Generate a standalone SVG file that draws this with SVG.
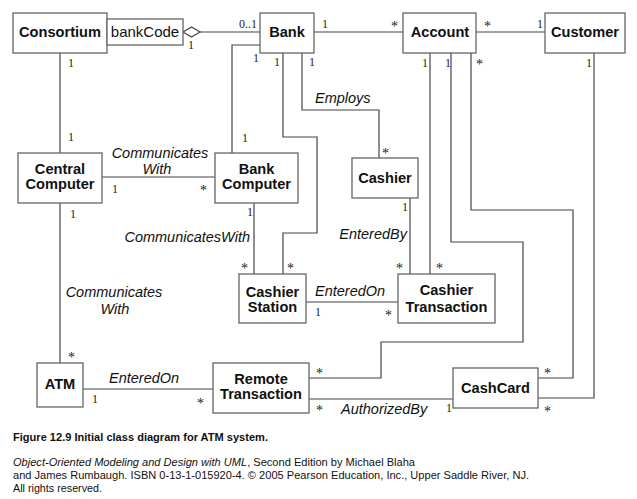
<svg xmlns="http://www.w3.org/2000/svg" width="637" height="499" viewBox="0 0 637 499">
<style>
.box{fill:#fff;stroke:#666;stroke-width:1.3}
.ln{fill:none;stroke:#444;stroke-width:1.2}
.cls{font-family:"Liberation Sans",Arial,sans-serif;font-weight:bold;font-size:14.6px;text-anchor:middle;fill:#111}
.attr{font-family:"Liberation Sans",Arial,sans-serif;font-size:15px;text-anchor:middle;fill:#111}
.lbl{font-family:"Liberation Sans",Arial,sans-serif;font-style:italic;font-size:14.5px;fill:#111}
.m{font-family:"Liberation Serif","Times New Roman",serif;font-size:12px;fill:#222}
.s{font-family:"Liberation Serif","Times New Roman",serif;font-size:14px;fill:#222}
.cap{font-family:"Liberation Sans",Arial,sans-serif;font-size:11px;fill:#111}
</style>
<rect width="637" height="499" fill="#fff"/>
<g id="connectors">
<polygon points="183,32 191.5,27 200,32 191.5,37" fill="#fff" stroke="#444" stroke-width="1.2"/>
<line class="ln" x1="200" y1="32" x2="260" y2="32"/>
<line class="ln" x1="60" y1="53" x2="60" y2="153"/>
<polyline class="ln" points="260,45 232,45 232,153"/>
<polyline class="ln" points="283,53 283,137 317,137 317,233 283,233 283,274"/>
<polyline class="ln" points="302,53 302,110 379,110 379,158"/>
<line class="ln" x1="314" y1="32" x2="403" y2="32"/>
<line class="ln" x1="476" y1="32" x2="545" y2="32"/>
<line class="ln" x1="102" y1="177" x2="215" y2="177"/>
<line class="ln" x1="60" y1="203" x2="60" y2="363"/>
<line class="ln" x1="254" y1="203" x2="254" y2="274"/>
<line class="ln" x1="410" y1="198" x2="410" y2="274"/>
<line class="ln" x1="306" y1="302" x2="398" y2="302"/>
<line class="ln" x1="430" y1="53" x2="430" y2="274"/>
<polyline class="ln" points="451,53 451,242 523,242 523,342 381,342 381,378 309,378"/>
<polyline class="ln" points="471,53 471,210 573,210 573,378 538,378"/>
<polyline class="ln" points="594,53 594,398 538,398"/>
<line class="ln" x1="83" y1="389" x2="213" y2="389"/>
<line class="ln" x1="309" y1="399" x2="453" y2="399"/>
<text class="m" x="239" y="28">0..1</text>
<text class="m" x="188" y="49">1</text>
<text class="m" x="68" y="67">1</text>
<text class="m" x="68" y="141">1</text>
<text class="m" x="253" y="62">1</text>
<text class="m" x="274" y="66">1</text>
<text class="m" x="309" y="66">1</text>
<text class="m" x="242" y="142">1</text>
<text class="m" x="322" y="28">1</text>
<text class="s" x="391" y="31">*</text>
<text class="s" x="484" y="31">*</text>
<text class="m" x="537" y="28">1</text>
<text class="m" x="422" y="67">1</text>
<text class="m" x="445" y="67">1</text>
<text class="s" x="476" y="69">*</text>
<text class="m" x="586" y="67">1</text>
<text class="s" x="382" y="158">*</text>
<text class="m" x="112" y="193">1</text>
<text class="s" x="200" y="195">*</text>
<text class="m" x="70" y="218">1</text>
<text class="m" x="247" y="216">1</text>
<text class="s" x="241" y="273">*</text>
<text class="s" x="287" y="273">*</text>
<text class="m" x="315" y="316">1</text>
<text class="m" x="402" y="211">1</text>
<text class="s" x="396" y="273">*</text>
<text class="s" x="436" y="273">*</text>
<text class="s" x="385" y="320">*</text>
<text class="s" x="68" y="362">*</text>
<text class="m" x="92" y="403">1</text>
<text class="s" x="197" y="408">*</text>
<text class="s" x="316" y="378">*</text>
<text class="s" x="316" y="415">*</text>
<text class="m" x="446" y="412">1</text>
<text class="s" x="544" y="378">*</text>
<text class="s" x="544" y="416">*</text>
<text class="lbl" x="160" y="157.5" text-anchor="middle">Communicates</text>
<text class="lbl" x="157" y="174" text-anchor="middle">With</text>
<text class="lbl" x="250" y="242" text-anchor="end">CommunicatesWith</text>
<text class="lbl" x="114" y="297" text-anchor="middle">Communicates</text>
<text class="lbl" x="115" y="313.5" text-anchor="middle">With</text>
<text class="lbl" x="315" y="103">Employs</text>
<text class="lbl" x="407" y="239" text-anchor="end">EnteredBy</text>
<text class="lbl" x="315" y="296">EnteredOn</text>
<text class="lbl" x="109" y="383">EnteredOn</text>
<text class="lbl" x="341" y="414">AuthorizedBy</text>
</g>
<g id="consortium">
<rect class="box" x="13" y="13" width="94" height="40"/>
<text class="cls" x="60" y="37">Consortium</text>
<rect class="box" x="107" y="19" width="76" height="26"/>
<text class="attr" x="145" y="37">bankCode</text>
</g>
<g id="bank"><rect class="box" x="260" y="13" width="54" height="40"/><text class="cls" x="287" y="37">Bank</text></g>
<g id="account"><rect class="box" x="403" y="13" width="73" height="40"/><text class="cls" x="440" y="37">Account</text></g>
<g id="customer"><rect class="box" x="545" y="13" width="80" height="40"/><text class="cls" x="585" y="37">Customer</text></g>
<g id="central-computer"><rect class="box" x="18" y="153" width="84" height="50"/><text class="cls" x="60" y="174">Central</text><text class="cls" x="60" y="189">Computer</text></g>
<g id="bank-computer"><rect class="box" x="215" y="153" width="83" height="50"/><text class="cls" x="256.5" y="174">Bank</text><text class="cls" x="256.5" y="189">Computer</text></g>
<g id="cashier"><rect class="box" x="352" y="158" width="66" height="40"/><text class="cls" x="385" y="183">Cashier</text></g>
<g id="cashier-station"><rect class="box" x="239" y="274" width="67" height="49"/><text class="cls" x="272.5" y="297">Cashier</text><text class="cls" x="272.5" y="312">Station</text></g>
<g id="cashier-transaction"><rect class="box" x="398" y="274" width="97" height="49"/><text class="cls" x="446.5" y="295">Cashier</text><text class="cls" x="446.5" y="312">Transaction</text></g>
<g id="atm"><rect class="box" x="37" y="363" width="46" height="44"/><text class="cls" x="60" y="389">ATM</text></g>
<g id="remote-transaction"><rect class="box" x="213" y="363" width="96" height="50"/><text class="cls" x="261" y="384">Remote</text><text class="cls" x="261" y="399">Transaction</text></g>
<g id="cashcard"><rect class="box" x="453" y="368" width="85" height="40"/><text class="cls" x="495.5" y="393">CashCard</text></g>
<g id="caption">
<text class="cap" x="13" y="441" font-weight="bold" textLength="255" lengthAdjust="spacingAndGlyphs">Figure 12.9  Initial class diagram for ATM system.</text>
<text class="cap" x="13" y="466" textLength="402" lengthAdjust="spacingAndGlyphs"><tspan font-style="italic">Object-Oriented Modeling and Design with UML</tspan>, Second Edition by Michael Blaha</text>
<text class="cap" x="13" y="479" textLength="516" lengthAdjust="spacingAndGlyphs">and James Rumbaugh. ISBN 0-13-1-015920-4. © 2005 Pearson Education, Inc., Upper Saddle River, NJ.</text>
<text class="cap" x="13" y="492" textLength="89" lengthAdjust="spacingAndGlyphs">All rights reserved.</text>
</g>
</svg>
